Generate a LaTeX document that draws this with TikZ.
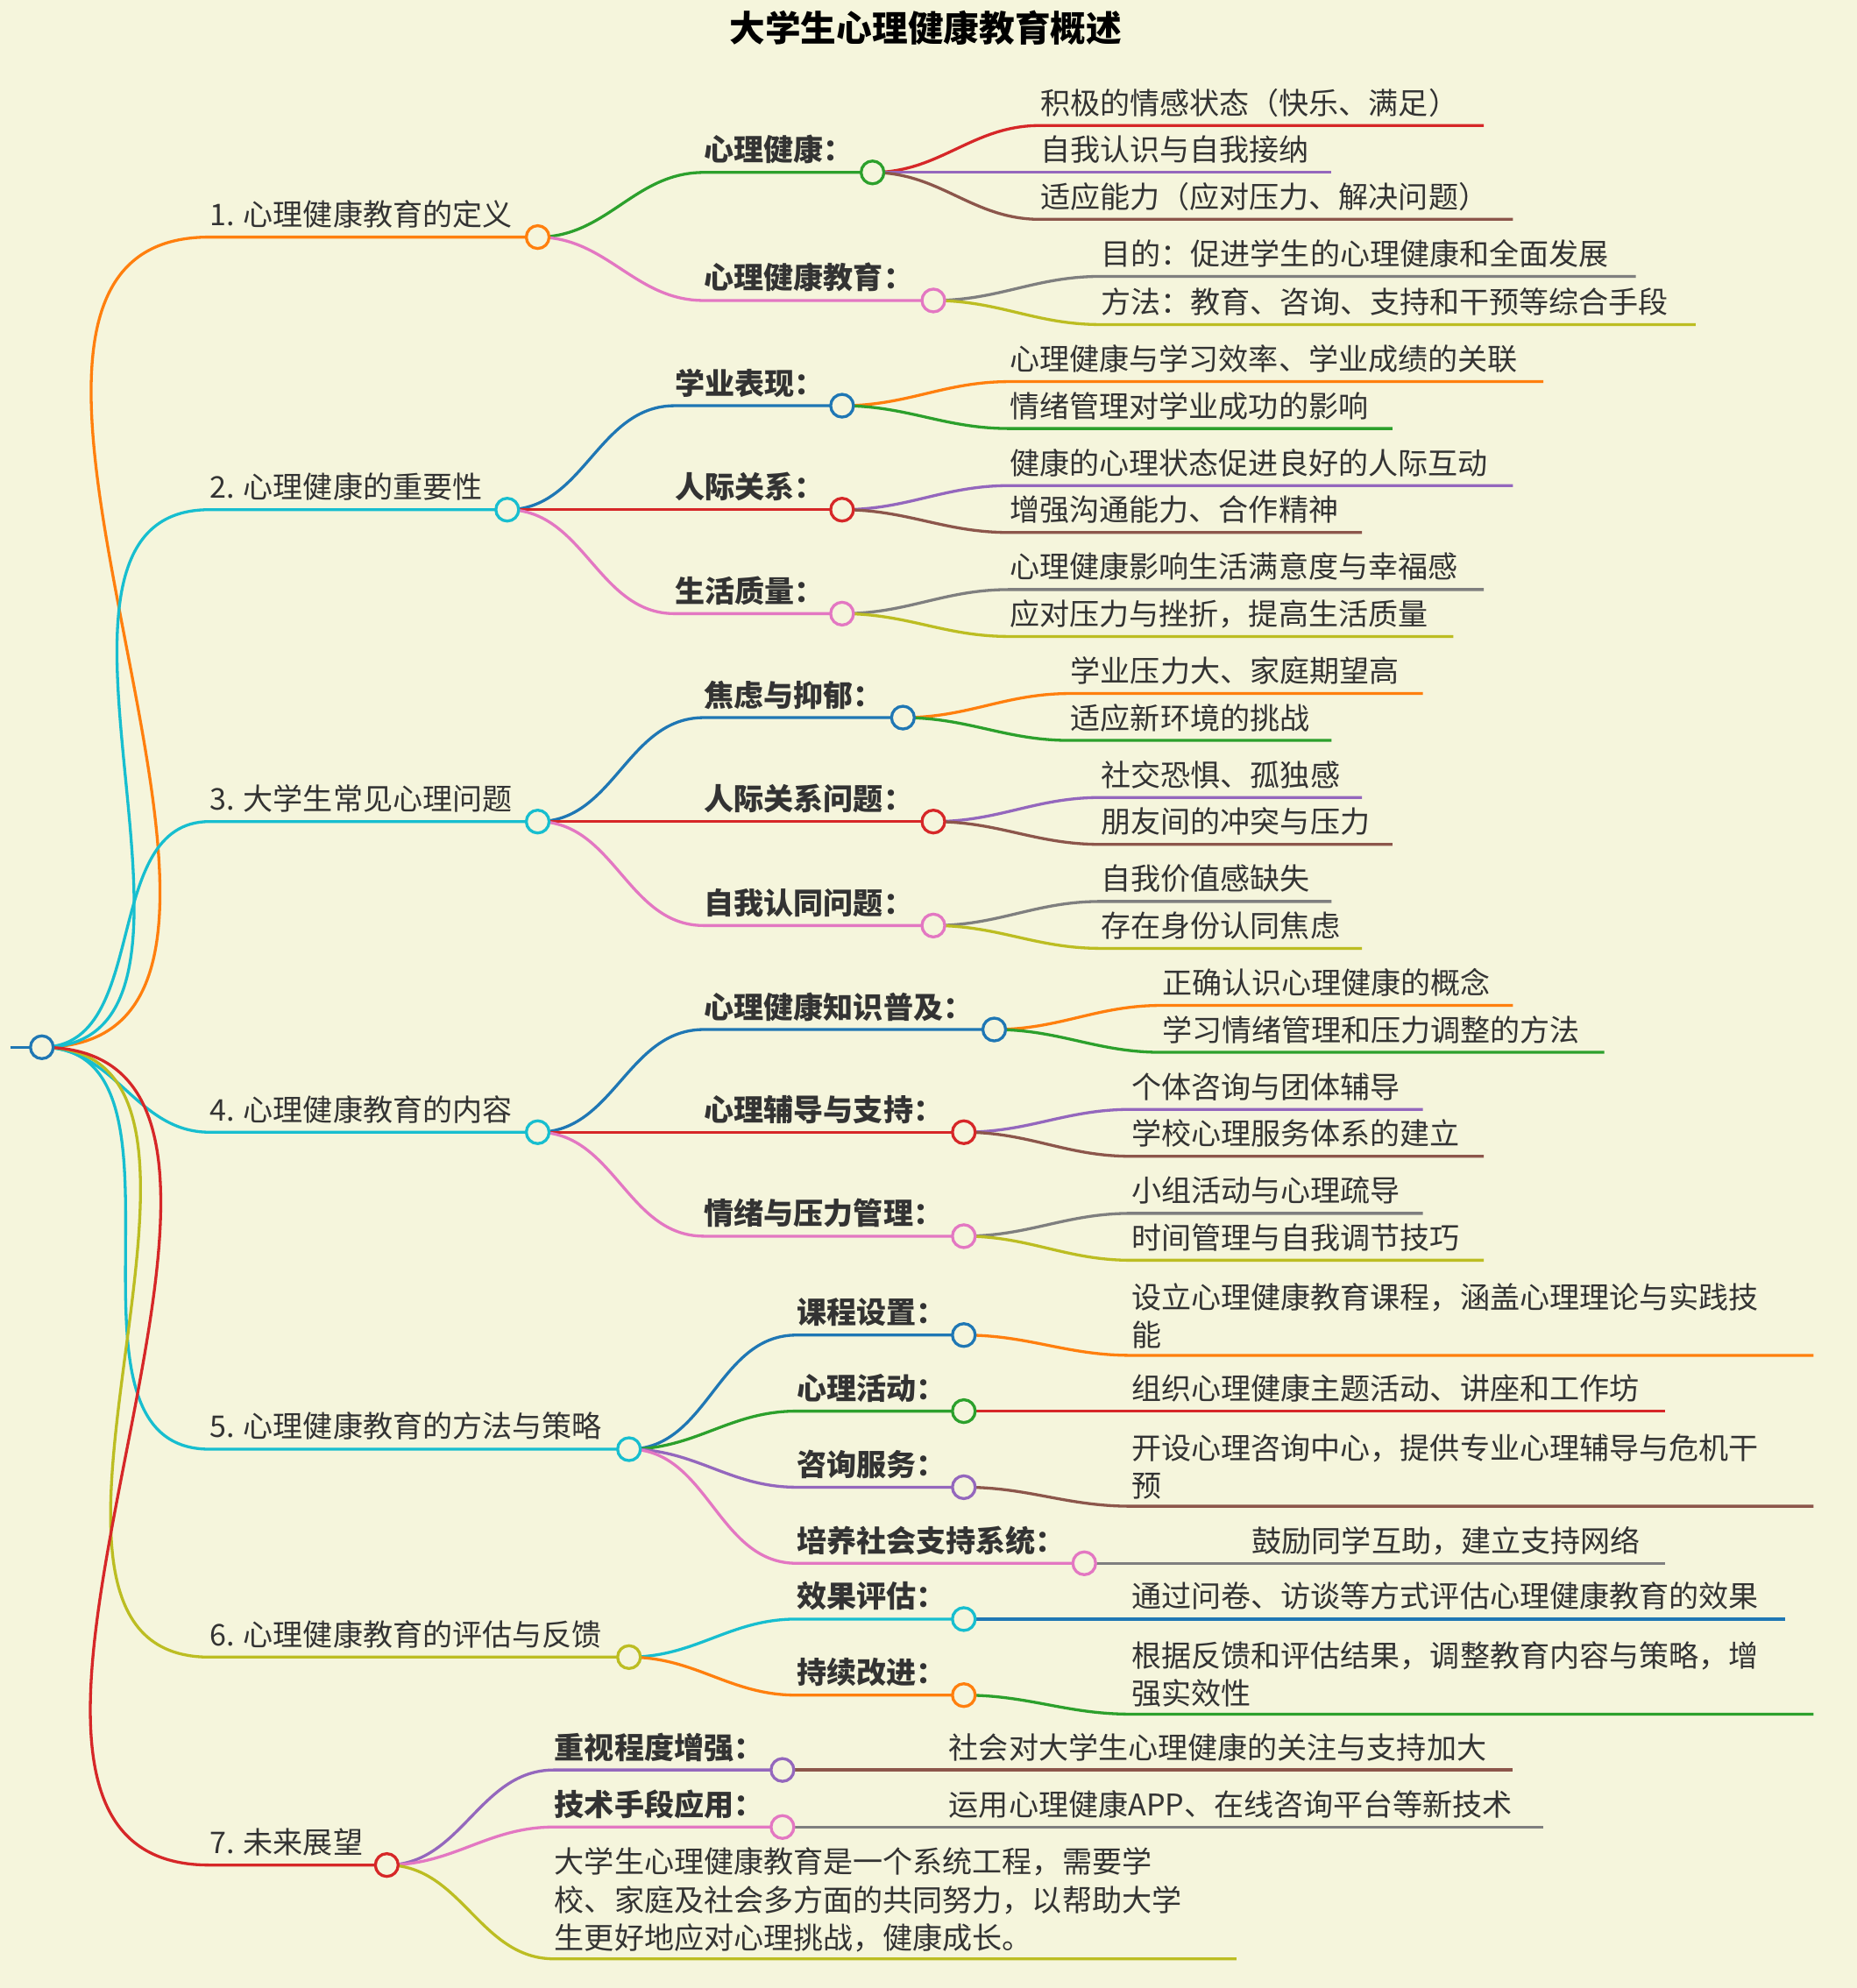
\documentclass[tikz,border=0pt]{standalone}
\usepackage{fontspec}
\setmainfont{Noto Sans CJK SC}
\usetikzlibrary{positioning}
\definecolor{bg}{HTML}{F5F5DC}
\definecolor{cblue}{HTML}{1F77B4}
\definecolor{corange}{HTML}{FF7F0E}
\definecolor{cgreen}{HTML}{2CA02C}
\definecolor{cred}{HTML}{D62728}
\definecolor{cpurple}{HTML}{9467BD}
\definecolor{cbrown}{HTML}{8C564B}
\definecolor{cpink}{HTML}{E377C2}
\definecolor{cgray}{HTML}{7F7F7F}
\definecolor{colive}{HTML}{BCBD22}
\definecolor{ccyan}{HTML}{17BECF}
\tikzset{
  edge/.style={line width=1.3pt},
  dot/.style={circle,fill=bg,line width=1.3pt,minimum size=0.36cm,inner sep=0pt},
  txt/.style={anchor=base west,inner sep=0pt,text=black!80,font=\fontsize{13.4}{17}\selectfont},
  sub/.style={txt,font=\fontsize{13.4}{17}\selectfont\bfseries},
  para/.style={txt,anchor=south west,align=left}
}
% parent, name, x, y, xend, colour
\newcommand{\mmedge}[6]{%
  \coordinate (#2) at (#3,#4);
  \draw[edge,#6] (#1) to[out=0,in=180] (#2) -- (#5,#4);}
\begin{document}
\begin{tikzpicture}[x=0.02cm,y=-0.02cm]
\fill[bg] (0,0) rectangle (1464,1568);
\useasboundingbox (0,0) rectangle (1464,1568);
\node[font=\fontsize{16}{19}\selectfont\bfseries] (title) at (730,22) {大学生心理健康教育概述};
\coordinate (root) at (33,826);
\draw[edge,cblue] (8,826) -- (root);

% 1
\coordinate (c1) at (424,187);
\mmedge{root}{t1}{165}{187}{424}{corange}
\node[txt] at ([yshift=0.18cm]t1) {1. 心理健康教育的定义};
\coordinate (c11) at (688,136);
\mmedge{c1}{t11}{555}{136}{688}{cgreen}
\node[sub] at ([yshift=0.18cm]t11) {心理健康：};
\mmedge{c11}{l111}{820}{99}{1170}{cred}
\node[txt] at ([yshift=0.18cm]l111) {积极的情感状态（快乐、满足）};
\mmedge{c11}{l112}{820}{136}{1050}{cpurple}
\node[txt] at ([yshift=0.18cm]l112) {自我认识与自我接纳};
\mmedge{c11}{l113}{820}{173}{1193}{cbrown}
\node[txt] at ([yshift=0.18cm]l113) {适应能力（应对压力、解决问题）};
\coordinate (c12) at (736,237);
\mmedge{c1}{t12}{555}{237}{736}{cpink}
\node[sub] at ([yshift=0.18cm]t12) {心理健康教育：};
\mmedge{c12}{l121}{868}{218}{1290}{cgray}
\node[txt] at ([yshift=0.18cm]l121) {目的：促进学生的心理健康和全面发展};
\mmedge{c12}{l122}{868}{256}{1337}{colive}
\node[txt] at ([yshift=0.18cm]l122) {方法：教育、咨询、支持和干预等综合手段};

% 2
\coordinate (c2) at (400,402);
\mmedge{root}{t2}{165}{402}{400}{ccyan}
\node[txt] at ([yshift=0.18cm]t2) {2. 心理健康的重要性};
\coordinate (c21) at (664,320);
\mmedge{c2}{t21}{532}{320}{664}{cblue}
\node[sub] at ([yshift=0.18cm]t21) {学业表现：};
\mmedge{c21}{l211}{796}{301}{1217}{corange}
\node[txt] at ([yshift=0.18cm]l211) {心理健康与学习效率、学业成绩的关联};
\mmedge{c21}{l212}{796}{338}{1098}{cgreen}
\node[txt] at ([yshift=0.18cm]l212) {情绪管理对学业成功的影响};
\coordinate (c22) at (664,402);
\mmedge{c2}{t22}{532}{402}{664}{cred}
\node[sub] at ([yshift=0.18cm]t22) {人际关系：};
\mmedge{c22}{l221}{796}{383}{1193}{cpurple}
\node[txt] at ([yshift=0.18cm]l221) {健康的心理状态促进良好的人际互动};
\mmedge{c22}{l222}{796}{420}{1074}{cbrown}
\node[txt] at ([yshift=0.18cm]l222) {增强沟通能力、合作精神};
\coordinate (c23) at (664,484);
\mmedge{c2}{t23}{532}{484}{664}{cpink}
\node[sub] at ([yshift=0.18cm]t23) {生活质量：};
\mmedge{c23}{l231}{796}{465}{1170}{cgray}
\node[txt] at ([yshift=0.18cm]l231) {心理健康影响生活满意度与幸福感};
\mmedge{c23}{l232}{796}{502}{1146}{colive}
\node[txt] at ([yshift=0.18cm]l232) {应对压力与挫折，提高生活质量};

% 3
\coordinate (c3) at (424,648);
\mmedge{root}{t3}{165}{648}{424}{ccyan}
\node[txt] at ([yshift=0.18cm]t3) {3. 大学生常见心理问题};
\coordinate (c31) at (712,566);
\mmedge{c3}{t31}{555}{566}{712}{cblue}
\node[sub] at ([yshift=0.18cm]t31) {焦虑与抑郁：};
\mmedge{c31}{l311}{844}{547}{1122}{corange}
\node[txt] at ([yshift=0.18cm]l311) {学业压力大、家庭期望高};
\mmedge{c31}{l312}{844}{584}{1050}{cgreen}
\node[txt] at ([yshift=0.18cm]l312) {适应新环境的挑战};
\coordinate (c32) at (736,648);
\mmedge{c3}{t32}{555}{648}{736}{cred}
\node[sub] at ([yshift=0.18cm]t32) {人际关系问题：};
\mmedge{c32}{l321}{868}{629}{1074}{cpurple}
\node[txt] at ([yshift=0.18cm]l321) {社交恐惧、孤独感};
\mmedge{c32}{l322}{868}{666}{1098}{cbrown}
\node[txt] at ([yshift=0.18cm]l322) {朋友间的冲突与压力};
\coordinate (c33) at (736,730);
\mmedge{c3}{t33}{555}{730}{736}{cpink}
\node[sub] at ([yshift=0.18cm]t33) {自我认同问题：};
\mmedge{c33}{l331}{868}{711}{1050}{cgray}
\node[txt] at ([yshift=0.18cm]l331) {自我价值感缺失};
\mmedge{c33}{l332}{868}{748}{1074}{colive}
\node[txt] at ([yshift=0.18cm]l332) {存在身份认同焦虑};

% 4
\coordinate (c4) at (424,893);
\mmedge{root}{t4}{165}{893}{424}{ccyan}
\node[txt] at ([yshift=0.18cm]t4) {4. 心理健康教育的内容};
\coordinate (c41) at (784,812);
\mmedge{c4}{t41}{555}{812}{784}{cblue}
\node[sub] at ([yshift=0.18cm]t41) {心理健康知识普及：};
\mmedge{c41}{l411}{916}{793}{1193}{corange}
\node[txt] at ([yshift=0.18cm]l411) {正确认识心理健康的概念};
\mmedge{c41}{l412}{916}{830}{1265}{cgreen}
\node[txt] at ([yshift=0.18cm]l412) {学习情绪管理和压力调整的方法};
\coordinate (c42) at (760,893);
\mmedge{c4}{t42}{555}{893}{760}{cred}
\node[sub] at ([yshift=0.18cm]t42) {心理辅导与支持：};
\mmedge{c42}{l421}{892}{875}{1122}{cpurple}
\node[txt] at ([yshift=0.18cm]l421) {个体咨询与团体辅导};
\mmedge{c42}{l422}{892}{912}{1170}{cbrown}
\node[txt] at ([yshift=0.18cm]l422) {学校心理服务体系的建立};
\coordinate (c43) at (760,975);
\mmedge{c4}{t43}{555}{975}{760}{cpink}
\node[sub] at ([yshift=0.18cm]t43) {情绪与压力管理：};
\mmedge{c43}{l431}{892}{957}{1122}{cgray}
\node[txt] at ([yshift=0.18cm]l431) {小组活动与心理疏导};
\mmedge{c43}{l432}{892}{994}{1170}{colive}
\node[txt] at ([yshift=0.18cm]l432) {时间管理与自我调节技巧};

% 5
\coordinate (c5) at (496,1143);
\mmedge{root}{t5}{165}{1143}{496}{ccyan}
\node[txt] at ([yshift=0.18cm]t5) {5. 心理健康教育的方法与策略};
\coordinate (c51) at (760,1053);
\mmedge{c5}{t51}{628}{1053}{760}{cblue}
\node[sub] at ([yshift=0.18cm]t51) {课程设置：};
\mmedge{c51}{l511}{892}{1069}{1430}{corange}
\node[para] at ([yshift=0.1cm]l511) {设立心理健康教育课程，涵盖心理理论与实践技\\能};
\coordinate (c52) at (760,1113);
\mmedge{c5}{t52}{628}{1113}{760}{cgreen}
\node[sub] at ([yshift=0.18cm]t52) {心理活动：};
\mmedge{c52}{l521}{892}{1113}{1313}{cred}
\node[txt] at ([yshift=0.18cm]l521) {组织心理健康主题活动、讲座和工作坊};
\coordinate (c53) at (760,1173);
\mmedge{c5}{t53}{628}{1173}{760}{cpurple}
\node[sub] at ([yshift=0.18cm]t53) {咨询服务：};
\mmedge{c53}{l531}{892}{1188}{1430}{cbrown}
\node[para] at ([yshift=0.1cm]l531) {开设心理咨询中心，提供专业心理辅导与危机干\\预};
\coordinate (c54) at (855,1233);
\mmedge{c5}{t54}{628}{1233}{855}{cpink}
\node[sub] at ([yshift=0.18cm]t54) {培养社会支持系统：};
\mmedge{c54}{l541}{987}{1233}{1313}{cgray}
\node[txt] at ([yshift=0.18cm]l541) {鼓励同学互助，建立支持网络};

% 6
\coordinate (c6) at (496,1307);
\mmedge{root}{t6}{165}{1307}{496}{colive}
\node[txt] at ([yshift=0.18cm]t6) {6. 心理健康教育的评估与反馈};
\coordinate (c61) at (760,1277);
\mmedge{c6}{t61}{628}{1277}{760}{ccyan}
\node[sub] at ([yshift=0.18cm]t61) {效果评估：};
\mmedge{c61}{l611}{892}{1277}{1408}{cblue}
\node[txt] at ([yshift=0.18cm]l611) {通过问卷、访谈等方式评估心理健康教育的效果};
\coordinate (c62) at (760,1337);
\mmedge{c6}{t62}{628}{1337}{760}{corange}
\node[sub] at ([yshift=0.18cm]t62) {持续改进：};
\mmedge{c62}{l621}{892}{1352}{1430}{cgreen}
\node[para] at ([yshift=0.1cm]l621) {根据反馈和评估结果，调整教育内容与策略，增\\强实效性};

% 7
\coordinate (c7) at (305,1471);
\mmedge{root}{t7}{165}{1471}{305}{cred}
\node[txt] at ([yshift=0.18cm]t7) {7. 未来展望};
\coordinate (c71) at (617,1396);
\mmedge{c7}{t71}{437}{1396}{617}{cpurple}
\node[sub] at ([yshift=0.18cm]t71) {重视程度增强：};
\mmedge{c71}{l711}{748}{1396}{1193}{cbrown}
\node[txt] at ([yshift=0.18cm]l711) {社会对大学生心理健康的关注与支持加大};
\coordinate (c72) at (617,1441);
\mmedge{c7}{t72}{437}{1441}{617}{cpink}
\node[sub] at ([yshift=0.18cm]t72) {技术手段应用：};
\mmedge{c72}{l721}{748}{1441}{1217}{cgray}
\node[txt] at ([yshift=0.18cm]l721) {运用心理健康APP、在线咨询平台等新技术};
\mmedge{c7}{t73}{437}{1545}{975}{colive}
\node[para] at ([yshift=0.1cm]t73) {大学生心理健康教育是一个系统工程，需要学\\校、家庭及社会多方面的共同努力，以帮助大学\\生更好地应对心理挑战，健康成长。};

% circles on top
\foreach \p/\c in {root/cblue,c1/corange,c11/cgreen,c12/cpink,
  c2/ccyan,c21/cblue,c22/cred,c23/cpink,
  c3/ccyan,c31/cblue,c32/cred,c33/cpink,
  c4/ccyan,c41/cblue,c42/cred,c43/cpink,
  c5/ccyan,c51/cblue,c52/cgreen,c53/cpurple,c54/cpink,
  c6/colive,c61/ccyan,c62/corange,
  c7/cred,c71/cpurple,c72/cpink}
  \node[dot,draw=\c] at (\p) {};
\end{tikzpicture}
\end{document}
